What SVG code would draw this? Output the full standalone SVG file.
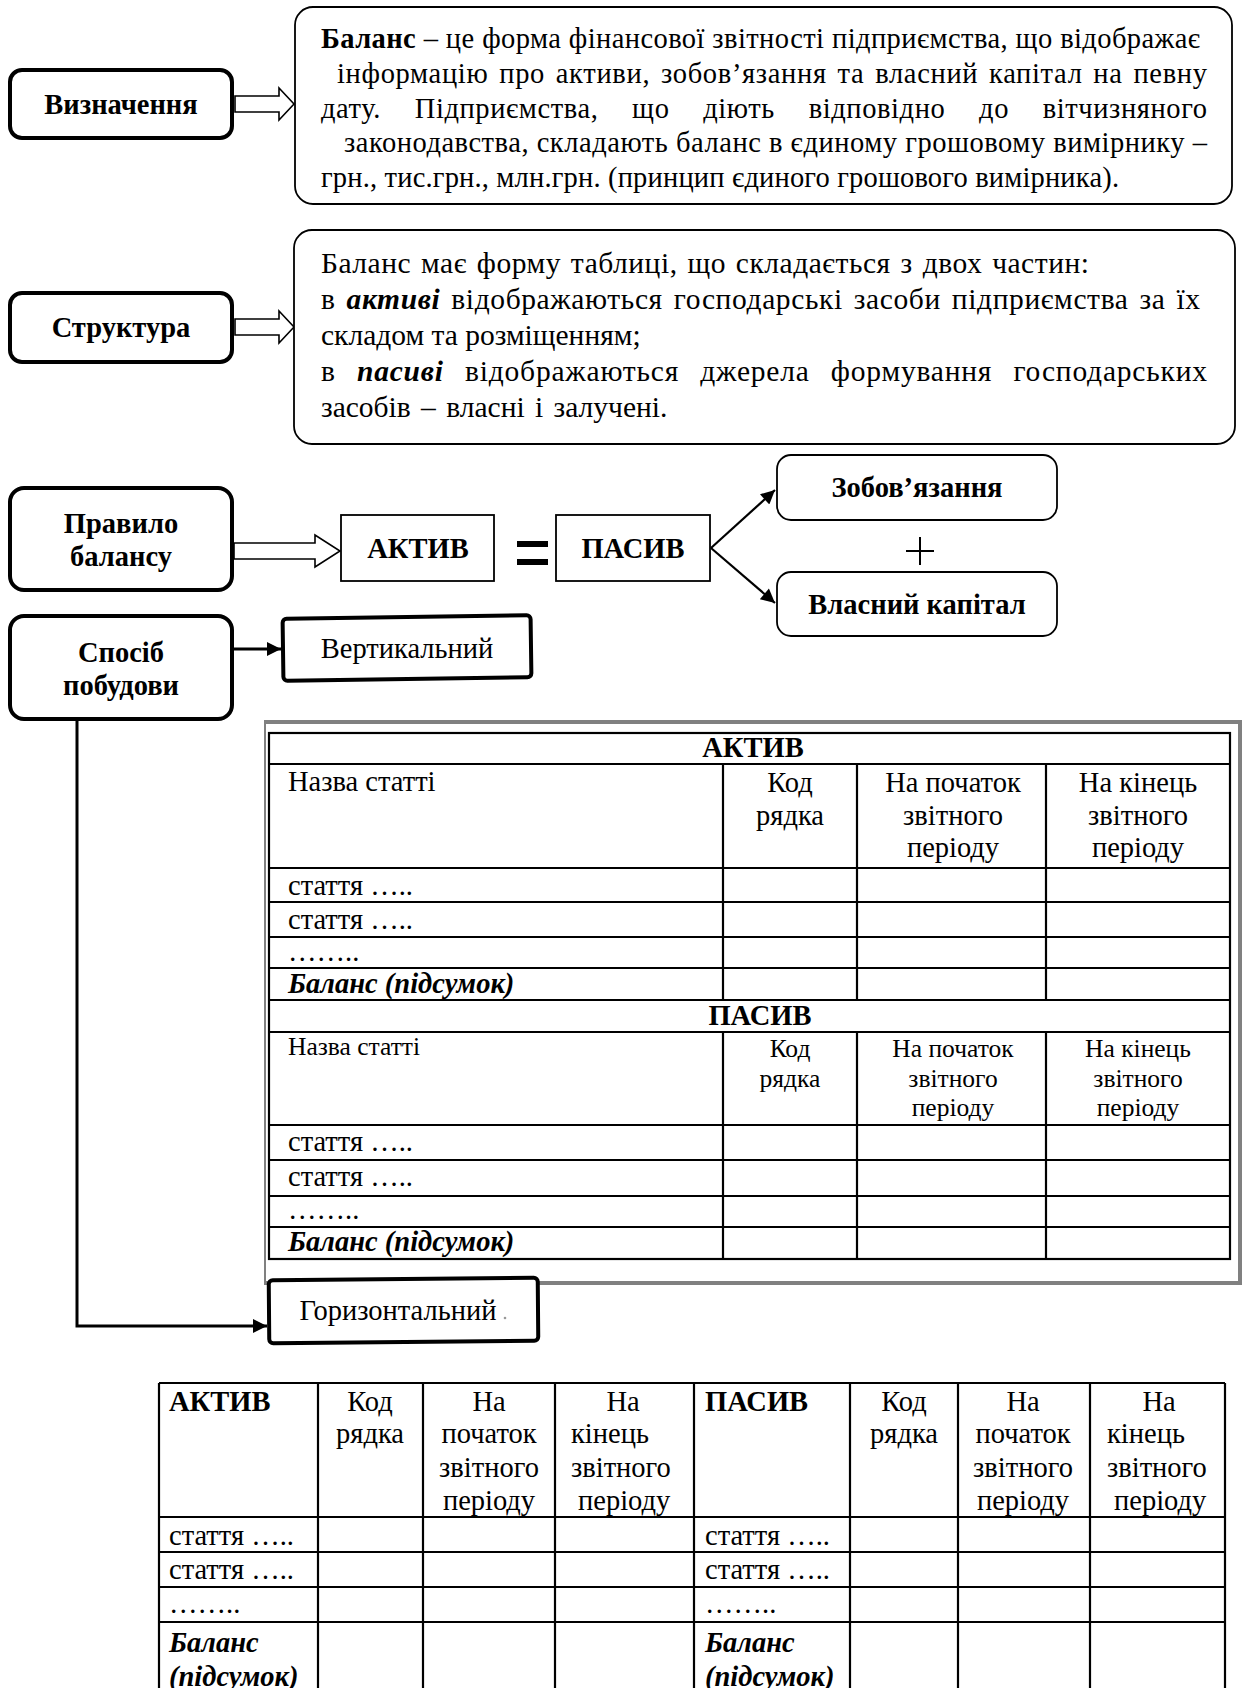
<svg xmlns="http://www.w3.org/2000/svg" width="1244" height="1688" viewBox="0 0 1244 1688">
<style>
.nb{fill:#fff;stroke:#000;stroke-width:4}
.tb{fill:#fff;stroke:#000;stroke-width:1.8}
.ha{fill:#fff;stroke:#000;stroke-width:1.6;stroke-linejoin:miter}
.cn{fill:none;stroke:#000;stroke-width:3}
.cn2{fill:none;stroke:#000;stroke-width:2.2}
.t{font-family:"Liberation Serif","Times New Roman",serif;font-size:28.5px;fill:#000}
.m{font-size:29.5px}
.s{font-size:25.5px}
.b{font-weight:bold}
.bi{font-weight:bold;font-style:italic}
.c{text-anchor:middle}
.gl{fill:none;stroke:#000;stroke-width:2.2}
.gf{fill:none;stroke:#808080}
</style>
<defs>
<marker id="ah" viewBox="0 0 10 10" refX="10" refY="5" markerWidth="16" markerHeight="14" markerUnits="userSpaceOnUse" orient="auto">
<path d="M0,0 L10,5 L0,10 Z" fill="#000"/>
</marker>
</defs>
<rect width="1244" height="1688" fill="#fff"/>

<g id="connectors">
<path class="ha" d="M235,96 H279 V88 L294,104 L279,120 V112 H235 Z"/>
<path class="ha" d="M235,319 H279 V311 L294,327 L279,343 V335 H235 Z"/>
<path class="ha" d="M234,543 H315 V535 L340,551 L315,567 V559 H234 Z"/>
<line class="cn2" x1="711" y1="548" x2="775" y2="490" marker-end="url(#ah)"/>
<line class="cn2" x1="711" y1="548" x2="775" y2="603" marker-end="url(#ah)"/>
<line class="cn" x1="232" y1="649" x2="281" y2="649" marker-end="url(#ah)"/>
<path class="cn" d="M77,719 V1326 H267" marker-end="url(#ah)"/>
</g>

<g id="n-vyznachennia">
<rect class="nb" x="10" y="70" width="222" height="68" rx="12"/>
<text class="t b c" x="121" y="114">Визначення</text>
</g>

<g id="n-definition">
<rect class="tb" x="295" y="7" width="937" height="197" rx="18"/>
<text class="t" x="321" y="48" textLength="879" lengthAdjust="spacing"><tspan class="b">Баланс</tspan> – це форма фінансової звітності підприємства, що відображає</text>
<text class="t" x="337" y="83" textLength="870" lengthAdjust="spacing" style="word-spacing:3px">інформацію про активи, зобов’язання та власний капітал на певну</text>
<text class="t" x="321" y="118" textLength="886" lengthAdjust="spacing" style="word-spacing:26px">дату. Підприємства, що діють відповідно до вітчизняного</text>
<text class="t" x="344" y="152" textLength="863" lengthAdjust="spacing">законодавства, складають баланс в єдиному грошовому вимірнику –</text>
<text class="t" x="321" y="187" textLength="798" lengthAdjust="spacing">грн., тис.грн., млн.грн. (принцип єдиного грошового вимірника).</text>
</g>

<g id="n-struktura">
<rect class="nb" x="10" y="293" width="222" height="69" rx="12"/>
<text class="t b c" x="121" y="337">Структура</text>
</g>

<g id="n-structure-text">
<rect class="tb" x="294" y="230" width="941" height="214" rx="18"/>
<text class="t m" x="321" y="273" textLength="768" lengthAdjust="spacing" style="word-spacing:2px">Баланс має форму таблиці, що складається з двох частин:</text>
<text class="t m" x="321" y="309" textLength="879" lengthAdjust="spacing" style="word-spacing:3px">в <tspan class="bi">активі</tspan> відображаються господарські засоби підприємства за їх</text>
<text class="t m" x="321" y="345">складом та розміщенням;</text>
<text class="t m" x="321" y="381" textLength="886" lengthAdjust="spacing" style="word-spacing:13px">в <tspan class="bi">пасиві</tspan> відображаються джерела формування господарських</text>
<text class="t m" x="321" y="417" style="word-spacing:3px">засобів – власні і залучені.</text>
</g>

<g id="n-pravylo">
<rect class="nb" x="10" y="488" width="222" height="102" rx="14"/>
<text class="t b c" x="121" y="533">Правило</text>
<text class="t b c" x="121" y="566">балансу</text>
</g>

<g id="n-aktyv">
<rect class="tb" x="341" y="515" width="153" height="66"/>
<text class="t b c" x="418" y="558">АКТИВ</text>
</g>

<g id="n-equals">
<rect x="517" y="541" width="31" height="6" fill="#000"/>
<rect x="517" y="559" width="31" height="6" fill="#000"/>
</g>

<g id="n-pasyv">
<rect class="tb" x="556" y="515" width="154" height="66"/>
<text class="t b c" x="633" y="558">ПАСИВ</text>
</g>

<g id="n-zobov">
<rect class="tb" x="777" y="455" width="280" height="65" rx="14"/>
<text class="t b c" x="917" y="497">Зобов’язання</text>
</g>

<g id="n-plus">
<line x1="906" y1="551" x2="934" y2="551" stroke="#000" stroke-width="2"/>
<line x1="920" y1="537" x2="920" y2="565" stroke="#000" stroke-width="2"/>
</g>

<g id="n-vlasnyi">
<rect class="tb" x="777" y="572" width="280" height="64" rx="14"/>
<text class="t b c" x="917" y="614">Власний капітал</text>
</g>

<g id="n-sposib">
<rect class="nb" x="10" y="616" width="222" height="103" rx="14"/>
<text class="t b c" x="121" y="662">Спосіб</text>
<text class="t b c" x="121" y="695">побудови</text>
</g>

<g id="n-vertykalnyi">
<rect class="nb" x="283" y="617" width="248" height="62" rx="4" transform="rotate(-0.8 407 648)"/>
<text class="t c" x="407" y="658">Вертикальний</text>
</g>

<g id="n-vertical-table">
<path class="gf" stroke-width="4" d="M264,722 H1240 V1283 H264"/>
<line class="gf" stroke-width="2" x1="265" y1="721" x2="265" y2="1284"/>
<rect class="gl" x="269" y="733" width="961" height="526"/>
<path class="gl" d="M269,764 H1230 M269,868 H1230 M269,902 H1230 M269,937 H1230 M269,968 H1230 M269,1000 H1230 M269,1032 H1230 M269,1125 H1230 M269,1160 H1230 M269,1196 H1230 M269,1227 H1230"/>
<path class="gl" d="M723,764 V1000 M857,764 V1000 M1046,764 V1000 M723,1032 V1259 M857,1032 V1259 M1046,1032 V1259"/>
<text class="t b c" x="753" y="757">АКТИВ</text>
<text class="t" x="288" y="791">Назва статті</text>
<text class="t c" x="790" y="792">Код</text>
<text class="t c" x="790" y="825">рядка</text>
<text class="t c" x="953" y="792">На початок</text>
<text class="t c" x="953" y="825">звітного</text>
<text class="t c" x="953" y="857">періоду</text>
<text class="t c" x="1138" y="792">На кінець</text>
<text class="t c" x="1138" y="825">звітного</text>
<text class="t c" x="1138" y="857">періоду</text>
<text class="t" x="288" y="895">стаття …..</text>
<text class="t" x="288" y="929">стаття …..</text>
<text class="t" x="288" y="961">……..</text>
<text class="t bi" x="288" y="993">Баланс (підсумок)</text>
<text class="t b c" x="760" y="1025">ПАСИВ</text>
<text class="t s" x="288" y="1055">Назва статті</text>
<text class="t s c" x="790" y="1057">Код</text>
<text class="t s c" x="790" y="1087">рядка</text>
<text class="t s c" x="953" y="1057">На початок</text>
<text class="t s c" x="953" y="1087">звітного</text>
<text class="t s c" x="953" y="1116">періоду</text>
<text class="t s c" x="1138" y="1057">На кінець</text>
<text class="t s c" x="1138" y="1087">звітного</text>
<text class="t s c" x="1138" y="1116">періоду</text>
<text class="t" x="288" y="1151">стаття …..</text>
<text class="t" x="288" y="1186">стаття …..</text>
<text class="t" x="288" y="1219">……..</text>
<text class="t bi" x="288" y="1251">Баланс (підсумок)</text>
</g>

<g id="n-horyzontalnyi">
<rect class="nb" x="269" y="1279" width="269" height="63" rx="4" transform="rotate(-0.5 403 1310)"/>
<text class="t c" x="398" y="1320">Горизонтальний</text>
<circle cx="505" cy="1318" r="1.3" fill="#999"/>
</g>

<g id="n-horizontal-table">
<path class="gl" d="M159,1383 H1225 M159,1517 H1225 M159,1552 H1225 M159,1587 H1225 M159,1622 H1225"/>
<path class="gl" d="M159,1383 V1700 M318,1383 V1700 M423,1383 V1700 M555,1383 V1700 M694,1383 V1700 M850,1383 V1700 M958,1383 V1700 M1090,1383 V1700 M1225,1383 V1700"/>
<text class="t b" x="169" y="1411">АКТИВ</text>
<text class="t c" x="370" y="1411">Код</text>
<text class="t c" x="370" y="1443">рядка</text>
<text class="t c" x="489" y="1411">На</text>
<text class="t c" x="489" y="1443">початок</text>
<text class="t c" x="489" y="1477">звітного</text>
<text class="t c" x="489" y="1510">періоду</text>
<text class="t c" x="623" y="1411">На</text>
<text class="t" x="571" y="1443">кінець</text>
<text class="t" x="571" y="1477">звітного</text>
<text class="t" x="578" y="1510">періоду</text>
<text class="t b" x="705" y="1411">ПАСИВ</text>
<text class="t c" x="904" y="1411">Код</text>
<text class="t c" x="904" y="1443">рядка</text>
<text class="t c" x="1023" y="1411">На</text>
<text class="t c" x="1023" y="1443">початок</text>
<text class="t c" x="1023" y="1477">звітного</text>
<text class="t c" x="1023" y="1510">періоду</text>
<text class="t c" x="1159" y="1411">На</text>
<text class="t" x="1107" y="1443">кінець</text>
<text class="t" x="1107" y="1477">звітного</text>
<text class="t" x="1114" y="1510">періоду</text>
<text class="t" x="169" y="1545">стаття …..</text>
<text class="t" x="169" y="1579">стаття …..</text>
<text class="t" x="169" y="1613">……..</text>
<text class="t bi" x="169" y="1652">Баланс</text>
<text class="t bi" x="169" y="1686">(підсумок)</text>
<text class="t" x="705" y="1545">стаття …..</text>
<text class="t" x="705" y="1579">стаття …..</text>
<text class="t" x="705" y="1613">……..</text>
<text class="t bi" x="705" y="1652">Баланс</text>
<text class="t bi" x="705" y="1686">(підсумок)</text>
</g>
</svg>
